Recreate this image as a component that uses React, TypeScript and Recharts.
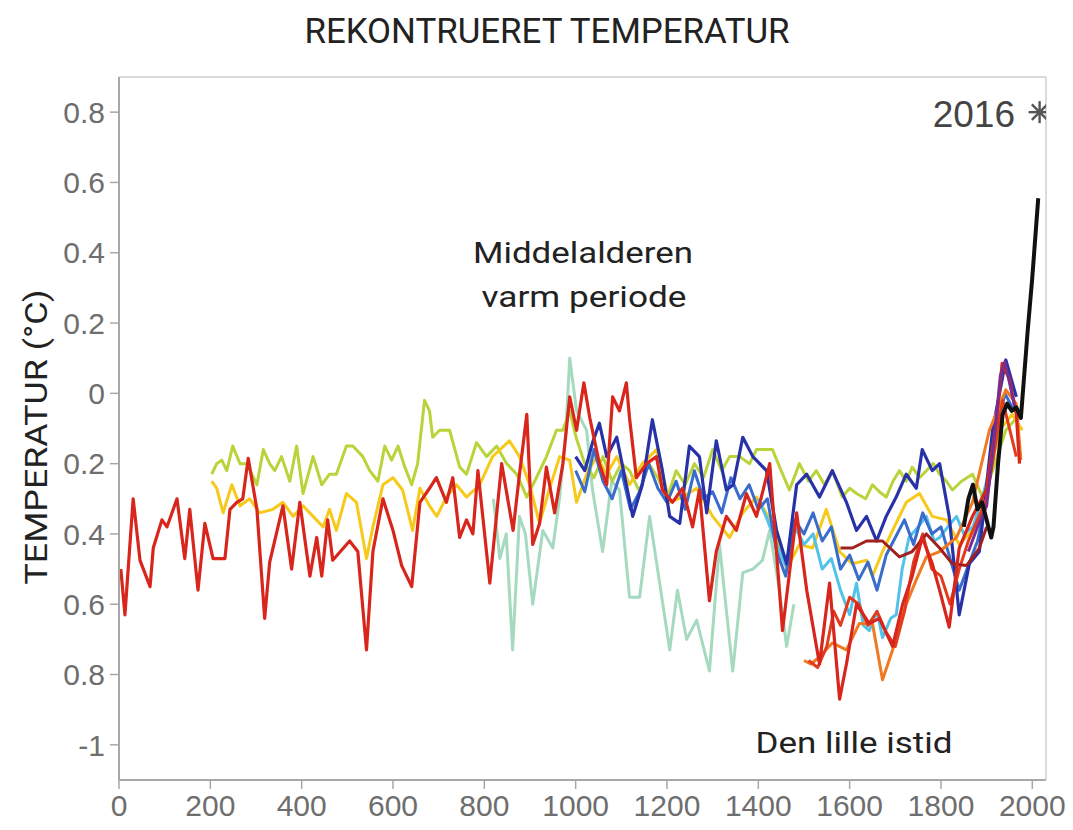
import React from 'react';
import { ComposedChart, Line, XAxis, YAxis, Scatter } from 'recharts';

// [year, temperature anomaly °C]
type Pt = [number, number];

const xTicks = [0, 200, 400, 600, 800, 1000, 1200, 1400, 1600, 1800, 2000];
const yTicks = [-1, -0.8, -0.6, -0.4, -0.2, 0, 0.2, 0.4, 0.6, 0.8];

const redMain: Pt[] = [
  [4, -0.5], [13, -0.63], [31, -0.3], [46, -0.475], [68, -0.55], [75, -0.44], [94, -0.36], [105, -0.38],
  [127, -0.3], [144, -0.47], [155, -0.33], [173, -0.56], [188, -0.37], [206, -0.47], [232, -0.47], [243, -0.33],
  [258, -0.31], [271, -0.3], [283, -0.185], [302, -0.33], [319, -0.64], [330, -0.48], [359, -0.32], [378, -0.5],
  [396, -0.31], [418, -0.52], [433, -0.41], [444, -0.52], [457, -0.36], [468, -0.475], [505, -0.42], [523, -0.45],
  [542, -0.73], [556, -0.45], [578, -0.3], [600, -0.39], [619, -0.49], [641, -0.55], [659, -0.31], [680, -0.27],
  [695, -0.24], [717, -0.31], [731, -0.24], [746, -0.41], [761, -0.36], [775, -0.4], [786, -0.22], [812, -0.54],
  [838, -0.2], [863, -0.39], [877, -0.23], [893, -0.06], [906, -0.43], [921, -0.37], [936, -0.21], [954, -0.34],
  [972, -0.2], [987, -0.01], [1002, -0.105], [1018, 0.03], [1031, -0.07], [1052, -0.2], [1068, -0.26], [1081, -0.01],
  [1096, -0.05], [1111, 0.03], [1118, -0.07], [1133, -0.24], [1155, -0.2], [1177, -0.18], [1190, -0.275], [1212, -0.31],
  [1234, -0.27], [1256, -0.38], [1271, -0.275], [1293, -0.59], [1308, -0.45], [1330, -0.35], [1352, -0.39], [1374, -0.285],
  [1396, -0.35], [1425, -0.2], [1453, -0.675], [1484, -0.34], [1506, -0.56], [1534, -0.77], [1556, -0.54], [1578, -0.87],
  [1593, -0.77], [1615, -0.6], [1643, -0.655], [1665, -0.64], [1694, -0.72], [1716, -0.6], [1737, -0.52], [1759, -0.41],
  [1781, -0.485], [1797, -0.56], [1818, -0.665], [1840, -0.44], [1869, -0.35], [1899, -0.275], [1921, -0.085], [1934, 0.085],
  [1950, 0.04], [1965, -0.06], [1972, -0.2],
];

const yellowGreen: Pt[] = [
  [203, -0.23], [214, -0.2], [225, -0.19], [236, -0.22], [249, -0.15], [265, -0.2], [280, -0.2], [302, -0.26],
  [316, -0.16], [330, -0.2], [341, -0.22], [356, -0.18], [374, -0.25], [389, -0.15], [403, -0.285], [425, -0.18],
  [444, -0.26], [461, -0.23], [476, -0.23], [498, -0.15], [512, -0.15], [534, -0.18], [549, -0.22], [567, -0.25],
  [582, -0.15], [597, -0.19], [611, -0.15], [626, -0.21], [641, -0.26], [654, -0.2], [669, -0.02], [680, -0.05],
  [687, -0.125], [702, -0.105], [724, -0.105], [746, -0.21], [761, -0.23], [783, -0.14], [805, -0.18], [827, -0.15],
  [849, -0.2], [871, -0.23], [893, -0.295], [914, -0.24], [936, -0.18], [958, -0.105], [972, -0.105], [987, -0.05],
  [1002, -0.13], [1020, -0.2], [1040, -0.24], [1060, -0.18], [1080, -0.25], [1100, -0.2], [1118, -0.22], [1140, -0.28],
  [1160, -0.2], [1180, -0.24], [1200, -0.3], [1220, -0.22], [1240, -0.26], [1260, -0.2], [1280, -0.24], [1300, -0.16],
  [1320, -0.22], [1337, -0.18], [1359, -0.18], [1381, -0.2], [1396, -0.16], [1431, -0.16], [1450, -0.22], [1468, -0.275],
  [1490, -0.2], [1510, -0.25], [1527, -0.22], [1545, -0.26], [1562, -0.22], [1584, -0.295], [1600, -0.27], [1615, -0.285],
  [1635, -0.3], [1650, -0.26], [1665, -0.28], [1680, -0.295], [1695, -0.25], [1709, -0.22], [1724, -0.25], [1737, -0.21],
  [1753, -0.24], [1768, -0.22], [1783, -0.2], [1797, -0.23], [1812, -0.25], [1825, -0.275], [1845, -0.25], [1869, -0.23],
  [1891, -0.295], [1913, -0.22], [1942, -0.105], [1972, -0.06],
];

const yellow: Pt[] = [
  [203, -0.25], [214, -0.27], [228, -0.34], [247, -0.26], [265, -0.32], [286, -0.3], [308, -0.34], [337, -0.33],
  [359, -0.31], [381, -0.35], [403, -0.32], [425, -0.35], [447, -0.38], [461, -0.33], [476, -0.39], [498, -0.285],
  [520, -0.31], [542, -0.47], [556, -0.38], [578, -0.26], [600, -0.24], [621, -0.275], [643, -0.39], [659, -0.27],
  [680, -0.32], [696, -0.35], [717, -0.295], [739, -0.26], [761, -0.295], [790, -0.26], [818, -0.18], [855, -0.135],
  [877, -0.18], [899, -0.26], [921, -0.37], [943, -0.27], [965, -0.18], [987, -0.19], [1002, -0.31], [1024, -0.23],
  [1046, -0.18], [1068, -0.23], [1090, -0.18], [1118, -0.26], [1146, -0.2], [1177, -0.16], [1206, -0.31], [1234, -0.295],
  [1265, -0.27], [1300, -0.35], [1337, -0.41], [1366, -0.34], [1396, -0.295], [1431, -0.37], [1462, -0.5], [1490, -0.43],
  [1519, -0.44], [1549, -0.33], [1578, -0.45], [1606, -0.485], [1637, -0.475], [1650, -0.52], [1672, -0.45], [1694, -0.39],
  [1724, -0.31], [1753, -0.285], [1781, -0.35], [1812, -0.36], [1840, -0.43], [1869, -0.39], [1891, -0.33], [1928, -0.105],
  [1956, -0.06], [1978, -0.105],
];

const mint: Pt[] = [
  [820, -0.3], [834, -0.47], [848, -0.4], [862, -0.73], [877, -0.35], [890, -0.4], [906, -0.6], [928, -0.39],
  [950, -0.44], [965, -0.295], [978, -0.12], [987, 0.1], [1002, -0.05], [1024, -0.105], [1037, -0.275], [1059, -0.45],
  [1079, -0.25], [1096, -0.275], [1118, -0.58], [1140, -0.58], [1162, -0.35], [1184, -0.54], [1206, -0.73], [1223, -0.56],
  [1243, -0.7], [1265, -0.645], [1293, -0.79], [1315, -0.43], [1344, -0.79], [1366, -0.51], [1388, -0.5], [1409, -0.475],
  [1425, -0.39], [1445, -0.55], [1462, -0.72], [1478, -0.6],
];

const darkBlue: Pt[] = [
  [1000, -0.18], [1020, -0.22], [1037, -0.14], [1052, -0.085], [1068, -0.18], [1090, -0.125], [1111, -0.26], [1125, -0.35],
  [1146, -0.26], [1168, -0.075], [1190, -0.22], [1206, -0.35], [1228, -0.37], [1249, -0.15], [1271, -0.18], [1287, -0.34],
  [1308, -0.135], [1330, -0.275], [1345, -0.26], [1366, -0.125], [1388, -0.18], [1418, -0.22], [1440, -0.39], [1462, -0.485],
  [1484, -0.26], [1506, -0.23], [1534, -0.295], [1562, -0.22], [1593, -0.31], [1615, -0.39], [1637, -0.35], [1659, -0.42],
  [1680, -0.35], [1702, -0.295], [1724, -0.23], [1746, -0.27], [1759, -0.16], [1781, -0.22], [1797, -0.2], [1818, -0.35],
  [1840, -0.63], [1862, -0.485], [1884, -0.45], [1913, -0.105], [1942, 0.095], [1965, -0.01],
];

const midBlue: Pt[] = [
  [1000, -0.22], [1020, -0.28], [1040, -0.16], [1060, -0.25], [1080, -0.3], [1100, -0.22], [1120, -0.33], [1140, -0.28],
  [1160, -0.2], [1180, -0.27], [1200, -0.31], [1220, -0.25], [1240, -0.33], [1260, -0.22], [1280, -0.3], [1300, -0.28],
  [1320, -0.34], [1340, -0.24], [1360, -0.3], [1380, -0.26], [1400, -0.33], [1420, -0.3], [1440, -0.45], [1460, -0.52],
  [1480, -0.36], [1500, -0.4], [1520, -0.34], [1540, -0.42], [1560, -0.38], [1580, -0.5], [1600, -0.46], [1620, -0.53],
  [1640, -0.48], [1660, -0.56], [1680, -0.46], [1700, -0.41], [1720, -0.36], [1740, -0.43], [1760, -0.34], [1780, -0.4],
  [1800, -0.38], [1820, -0.47], [1840, -0.56], [1860, -0.49], [1880, -0.42], [1900, -0.3], [1920, -0.12], [1940, 0.0],
  [1960, -0.05],
];

const cyan: Pt[] = [
  [1400, -0.3], [1420, -0.36], [1440, -0.43], [1460, -0.49], [1480, -0.38], [1500, -0.43], [1520, -0.4], [1540, -0.5],
  [1560, -0.47], [1580, -0.56], [1600, -0.63], [1615, -0.54], [1630, -0.66], [1643, -0.675], [1660, -0.62], [1672, -0.695],
  [1690, -0.64], [1702, -0.63], [1715, -0.5], [1730, -0.41], [1750, -0.38], [1768, -0.35], [1785, -0.42], [1797, -0.41],
  [1815, -0.38], [1834, -0.35], [1850, -0.4], [1870, -0.38], [1890, -0.3], [1910, -0.2], [1930, -0.05], [1950, -0.02],
];

const orange: Pt[] = [
  [1500, -0.76], [1515, -0.77], [1534, -0.75], [1562, -0.71], [1593, -0.73], [1621, -0.655], [1650, -0.655], [1672, -0.815],
  [1694, -0.73], [1724, -0.6], [1746, -0.53], [1768, -0.465], [1797, -0.45], [1834, -0.41], [1869, -0.31], [1906, -0.105],
  [1942, 0.01], [1965, -0.03], [1975, -0.19],
];

const red2: Pt[] = [
  [1510, -0.76], [1530, -0.78], [1550, -0.72], [1565, -0.62], [1580, -0.66], [1600, -0.58], [1620, -0.6], [1640, -0.66],
  [1660, -0.62], [1680, -0.68], [1700, -0.72], [1720, -0.62], [1740, -0.48], [1760, -0.4], [1780, -0.5], [1800, -0.52],
  [1820, -0.6], [1840, -0.5], [1860, -0.42], [1880, -0.36], [1900, -0.3], [1920, -0.14], [1935, -0.02], [1950, -0.1],
  [1965, -0.18],
];

const darkRed: Pt[] = [
  [1580, -0.44], [1606, -0.44], [1637, -0.42], [1672, -0.42], [1709, -0.465], [1737, -0.45], [1768, -0.4], [1797, -0.44],
  [1825, -0.485], [1856, -0.49], [1884, -0.44], [1900, -0.38],
];

const purple: Pt[] = [
  [1860, -0.45], [1880, -0.38], [1900, -0.32], [1915, -0.15], [1930, 0.05], [1940, 0.09], [1950, 0.03], [1962, -0.04],
];

const instrumental: Pt[] = [
  [1850, -0.38], [1860, -0.3], [1870, -0.26], [1880, -0.33], [1890, -0.31], [1900, -0.36], [1910, -0.41], [1915, -0.38],
  [1925, -0.2], [1935, -0.06], [1945, -0.03], [1955, -0.05], [1965, -0.04], [1975, -0.07], [1990, 0.18], [2000, 0.33],
  [2013, 0.555],
];

const marker2016: Pt[] = [[2016, 0.8]];

const rows = (pts: Pt[]) => pts.map(([year, t]) => ({ year, t }));

const series = [
  { key: 'mint', pts: mint, color: '#a6dabf', w: 3 },
  { key: 'yg', pts: yellowGreen, color: '#b9d43a', w: 3 },
  { key: 'yellow', pts: yellow, color: '#f7c91a', w: 3 },
  { key: 'cyan', pts: cyan, color: '#53c2e8', w: 3 },
  { key: 'midBlue', pts: midBlue, color: '#3a6ccc', w: 3 },
  { key: 'darkBlue', pts: darkBlue, color: '#2832a8', w: 3.2 },
  { key: 'orange', pts: orange, color: '#f07a20', w: 3 },
  { key: 'red2', pts: red2, color: '#e23b1d', w: 3 },
  { key: 'darkRed', pts: darkRed, color: '#a11f1c', w: 3 },
  { key: 'red', pts: redMain, color: '#d8261c', w: 3.2 },
  { key: 'purple', pts: purple, color: '#7b2d8e', w: 3 },
  { key: 'black', pts: instrumental, color: '#111111', w: 4 },
];

const fmtY = (v: number) => (v === -1 ? '-1' : v === 0 ? '0' : Math.abs(v).toFixed(1));

const Star = (props: any) => {
  const { cx, cy } = props;
  const r = 11;
  const lines = [0, 45, 90, 135].map((a) => {
    const rad = (a * Math.PI) / 180;
    return (
      <line key={a} x1={cx - r * Math.cos(rad)} y1={cy - r * Math.sin(rad)} x2={cx + r * Math.cos(rad)} y2={cy + r * Math.sin(rad)}
        stroke="#555" strokeWidth={2.4} />
    );
  });
  return <g>{lines}</g>;
};

const tickFont = { fontSize: 30, fill: '#6e6e6e', fontFamily: '"Liberation Sans", Arial, sans-serif' };
const textFont = 'Roboto, "Noto Sans", sans-serif';

export default function App() {
  return (
    <div style={{ position: 'absolute', left: 0, top: 0, width: 1073, height: 830, background: '#fff' }}>
      <ComposedChart width={1073} height={830} margin={{ top: 67, right: 17, bottom: 0, left: 0 }}>
        <XAxis xAxisId="bottom" type="number" dataKey="year" domain={[0, 2030]} ticks={xTicks} allowDataOverflow
          height={50} tickSize={9} tickMargin={6} tick={tickFont}
          axisLine={{ stroke: '#a8a8a8', strokeWidth: 2 }} tickLine={{ stroke: '#a8a8a8', strokeWidth: 1.5 }} />
        <XAxis xAxisId="top" orientation="top" type="number" dataKey="year" domain={[0, 2030]} ticks={xTicks} allowDataOverflow
          height={10} tickSize={6} tick={false}
          axisLine={{ stroke: '#cfcfcf', strokeWidth: 1.5 }} tickLine={{ stroke: '#cfcfcf' }} />
        <YAxis yAxisId="left" type="number" domain={[-1.1, 0.9]} ticks={yTicks} allowDataOverflow
          width={119} tickSize={9} tickMargin={5} tick={tickFont} tickFormatter={fmtY}
          axisLine={{ stroke: '#a8a8a8', strokeWidth: 2 }} tickLine={{ stroke: '#a8a8a8', strokeWidth: 1.5 }} />
        <YAxis yAxisId="right" orientation="right" type="number" domain={[-1.1, 0.9]} ticks={yTicks} allowDataOverflow
          width={10} tickSize={6} tick={false}
          axisLine={{ stroke: '#cfcfcf', strokeWidth: 1.5 }} tickLine={{ stroke: '#cfcfcf' }} />
        {series.map((s) => (
          <Line key={s.key} xAxisId="bottom" yAxisId="left" data={rows(s.pts)} dataKey="t" type="linear"
            stroke={s.color} strokeWidth={s.w} strokeLinejoin="round" dot={false} activeDot={false}
            isAnimationActive={false} />
        ))}
        <Scatter xAxisId="bottom" yAxisId="left" data={rows(marker2016)} dataKey="t" shape={Star} isAnimationActive={false} />
      </ComposedChart>
      <svg width={1073} height={830} style={{ position: 'absolute', left: 0, top: 0, pointerEvents: 'none' }}>
        <text x={547} y={43} textAnchor="middle" fontFamily={textFont} fontSize={35} fill="#222"
          textLength={485} lengthAdjust="spacingAndGlyphs">REKONTRUERET TEMPERATUR</text>
        <text transform="translate(47,437) rotate(-90)" textAnchor="middle" fontFamily={textFont} fontSize={31} fill="#222"
          textLength={295} lengthAdjust="spacingAndGlyphs">TEMPERATUR (°C)</text>
        <text x={583} y={263} textAnchor="middle" fontFamily={textFont} fontSize={29} fill="#222"
          textLength={220} lengthAdjust="spacingAndGlyphs">Middelalderen</text>
        <text x={584} y={307} textAnchor="middle" fontFamily={textFont} fontSize={29} fill="#222"
          textLength={205} lengthAdjust="spacingAndGlyphs">varm periode</text>
        <text x={854} y={753} textAnchor="middle" fontFamily={textFont} fontSize={29} fill="#222"
          textLength={197} lengthAdjust="spacingAndGlyphs">Den lille istid</text>
        <text x={1015} y={127} textAnchor="end" fontFamily={'"Liberation Sans", Arial, sans-serif'} fontSize={37} fill="#444">2016</text>
      </svg>
    </div>
  );
}
